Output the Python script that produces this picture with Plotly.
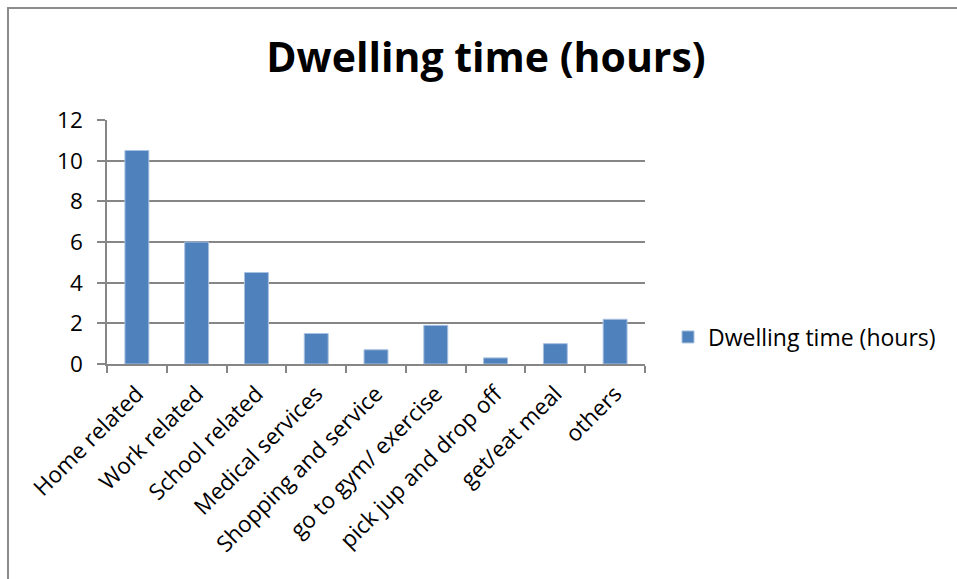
import plotly.graph_objects as go

# Dwelling time per activity category (hours)
categories = [
    "Home related",
    "Work related",
    "School related",
    "Medical services",
    "Shopping and service",
    "go to gym/ exercise",
    "pick jup and drop off",
    "get/eat meal",
    "others",
]
dwelling_hours = [10.5, 6.0, 4.5, 1.5, 0.7, 1.9, 0.3, 1.0, 2.2]
series_name = "Dwelling time (hours)"
y_ticks = [0, 2, 4, 6, 8, 10, 12]

W, H = 957, 579
plot_left, plot_right = 107, 645
plot_top, plot_bottom = 120, 364

FONT = "Open Sans"
LABEL_SIZE = 22.5
GRID = "#868686"

fig = go.Figure()
fig.add_trace(
    go.Bar(
        x=categories,
        y=dwelling_hours,
        name=series_name,
        marker=dict(color="#4F81BD", line=dict(color="#A9C1E0", width=1)),
        showlegend=True,
    )
)

pw = plot_right - plot_left
ph = plot_bottom - plot_top


def px_to_paper_x(px):
    return (px - plot_left) / pw


def px_to_paper_y(py):
    return (plot_bottom - py) / ph


fig.update_layout(
    width=W,
    height=H,
    margin=dict(l=plot_left, r=W - plot_right, t=plot_top, b=H - plot_bottom, pad=0),
    paper_bgcolor="white",
    plot_bgcolor="white",
    bargap=0.6,
    font=dict(family=FONT, size=LABEL_SIZE, color="black"),
    title=dict(
        text="<b>Dwelling time (hours)</b>",
        font=dict(family=FONT, size=41, color="black"),
        x=486 / W,
        xanchor="center",
        y=1 - 58 / H,
        yanchor="middle",
    ),
    showlegend=True,
    legend=dict(
        x=px_to_paper_x(668),
        xanchor="left",
        y=px_to_paper_y(337),
        yanchor="middle",
        font=dict(family=FONT, size=23, color="black"),
        bgcolor="rgba(0,0,0,0)",
        itemwidth=30,
    ),
    xaxis=dict(
        type="category",
        tickangle=-45,
        tickson="boundaries",
        ticks="outside",
        ticklen=7,
        tickcolor=GRID,
        tickwidth=1.5,
        showline=True,
        linecolor=GRID,
        linewidth=1.5,
        showgrid=False,
        ticklabelstandoff=6,
        tickfont=dict(family=FONT, size=LABEL_SIZE, color="black"),
    ),
    yaxis=dict(
        range=[0, 12],
        tickvals=y_ticks,
        ticks="outside",
        ticklen=8,
        tickcolor=GRID,
        tickwidth=1.5,
        showline=True,
        linecolor=GRID,
        linewidth=1.5,
        showgrid=True,
        gridcolor=GRID,
        gridwidth=1.5,
        zeroline=False,
        ticklabelstandoff=10,
        tickfont=dict(family=FONT, size=LABEL_SIZE, color="black"),
    ),
)

# Outer chart-area frame
fig.add_shape(
    type="rect",
    xref="paper",
    yref="paper",
    x0=px_to_paper_x(8),
    x1=px_to_paper_x(W + 20),
    y0=px_to_paper_y(H + 20),
    y1=px_to_paper_y(8),
    line=dict(color="#8C8C8C", width=2),
    fillcolor="rgba(0,0,0,0)",
    layer="below",
)

fig.write_html("out.html")
